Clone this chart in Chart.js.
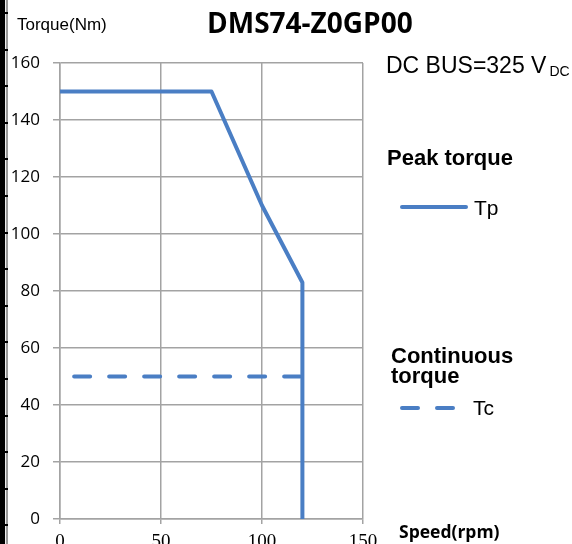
<!DOCTYPE html>
<html>
<head>
<meta charset="utf-8">
<script src="https://cdn.jsdelivr.net/npm/chart.js@4/dist/chart.umd.min.js"></script>
<style>
html,body{margin:0;padding:0;background:#fff;}
#wrap{position:relative;width:572px;height:544px;overflow:hidden;}
canvas{position:absolute;left:0;top:0;}
#edge{position:absolute;left:0;top:0;width:8px;height:544px;
  background:linear-gradient(to right,#000 0,#000 5px,#eee 5px,#eee 6px,#999 6px,#999 8px,transparent 8px);}
#ticks{position:absolute;left:0;top:0;width:8px;height:544px;
  background:repeating-linear-gradient(to bottom,transparent 0,transparent 12px,#000 12px,#000 14px,transparent 14px,transparent 36.6px);}
</style>
</head>
<body>
<div id="wrap">
  <canvas id="myChart" width="572" height="544"></canvas>
  <div id="edge"></div>
  <div id="ticks"></div>
</div>
<script>
// peak torque curve (Tp)
var tpSpeed = [0, 75, 100, 120, 120];
var tpTorque = [150, 150, 110, 83, 0];
// continuous torque (Tc)
var tcSpeed = [7, 120];
var tcTorque = [50, 50];

var xTicks = [0, 50, 100, 150];
var yTicks = [0, 20, 40, 60, 80, 100, 120, 140, 160];

var blue = '#4a7ec4';
var grid = '#a3a3a3';

function toPoints(xs, ys) {
    return xs.map(function(x, i){ return {x: x, y: ys[i]}; });
}

// titles, axis captions and the hand placed legend
var extras = {
    id: 'extras',
    afterDraw: function(chart) {
        var ctx = chart.ctx;
        var ds = chart.data.datasets;
        ctx.save();
        ctx.fillStyle = '#000';
        ctx.textBaseline = 'alphabetic';
        ctx.textAlign = 'left';

        ctx.font = '17px "Liberation Sans"';
        ctx.fillText('Torque(Nm)', 17, 30);

        ctx.font = 'bold 28px "Open Sans"';
        ctx.fillText('DMS74-Z0GP00', 207, 33);

        ctx.font = '23px "Liberation Sans"';
        ctx.fillText('DC BUS=325 V', 386, 73);
        var w = ctx.measureText('DC BUS=325 V').width;
        ctx.font = '14px "Liberation Sans"';
        ctx.fillText('DC', 386 + w + 3, 76);

        ctx.font = 'bold 22px "Liberation Sans"';
        ctx.fillText('Peak torque', 387, 165);
        ctx.fillText('Continuous', 391, 363);
        ctx.fillText('torque', 391, 383);

        ctx.font = '21px "Liberation Sans"';
        ctx.fillText('Tp', 474, 215);
        ctx.fillText('Tc', 473, 415);

        ctx.font = 'bold 17.5px "Open Sans"';
        ctx.fillText('Speed(rpm)', 399, 538);

        // legend samples use the dataset styles
        ctx.lineCap = 'round';
        ctx.strokeStyle = ds[0].borderColor;
        ctx.lineWidth = ds[0].borderWidth;
        ctx.beginPath();
        ctx.moveTo(402, 207);
        ctx.lineTo(466, 207);
        ctx.stroke();

        ctx.strokeStyle = ds[1].borderColor;
        ctx.lineWidth = ds[1].borderWidth;
        ctx.setLineDash(ds[1].borderDash);
        ctx.beginPath();
        ctx.moveTo(402, 408);
        ctx.lineTo(456, 408);
        ctx.stroke();
        ctx.restore();
    }
};

var ctx = document.getElementById('myChart').getContext('2d');
var myChart = new Chart(ctx, {
    type: 'line',
    data: {
        datasets: [{
            label: 'Tp',
            data: toPoints(tpSpeed, tpTorque),
            borderColor: blue,
            borderWidth: 4,
            borderCapStyle: 'round',
            borderJoinStyle: 'round',
            pointRadius: 0,
            tension: 0,
            fill: false
        }, {
            label: 'Tc',
            data: toPoints(tcSpeed, tcTorque),
            borderColor: blue,
            borderWidth: 4,
            borderDash: [16, 19],
            borderCapStyle: 'round',
            pointRadius: 0,
            tension: 0,
            fill: false
        }]
    },
    options: {
        responsive: false,
        animation: false,
        layout: {padding: {top: 63, right: 209, left: 0, bottom: 0}},
        plugins: {legend: {display: false}, tooltip: {enabled: false}},
        scales: {
            x: {
                type: 'linear',
                min: 0, max: 150,
                afterFit: function(s){ s.height = 25; },
                afterBuildTicks: function(s){ s.ticks = xTicks.map(function(v){ return {value: v}; }); },
                grid: {color: grid, lineWidth: 1.5, tickLength: 5},
                border: {color: grid, width: 1.5},
                ticks: {
                    color: '#000',
                    padding: 7,
                    maxRotation: 0,
                    font: {family: '"Liberation Serif"', size: 19}
                }
            },
            y: {
                min: 0, max: 160,
                afterFit: function(s){ s.width = 60; },
                afterBuildTicks: function(s){ s.ticks = yTicks.map(function(v){ return {value: v}; }); },
                grid: {color: grid, lineWidth: 1.5, tickLength: 7},
                border: {color: grid, width: 1.5},
                ticks: {
                    color: '#000',
                    padding: 13,
                    font: {family: '"Open Sans"', size: 17}
                }
            }
        }
    },
    plugins: [extras]
});
</script>
</body>
</html>
